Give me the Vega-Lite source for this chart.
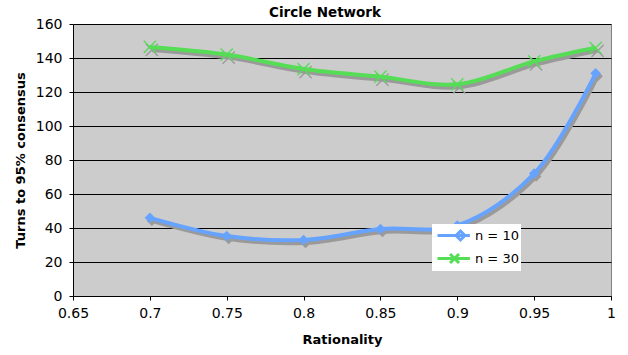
{
  "$schema": "https://vega.github.io/schema/vega-lite/v6.json",
  "width": 538,
  "height": 272,
  "autosize": {"type": "none"},
  "padding": {"left": 73, "top": 24, "right": 17, "bottom": 59},
  "background": "white",
  "title": {"text": "Circle Network", "font": "DejaVu Sans", "fontSize": 13.5, "fontWeight": "bold", "color": "black", "anchor": "middle", "frame": "group", "dx": -17, "dy": 16, "offset": 3, "baseline": "alphabetic"},
  "config": {
    "font": "DejaVu Sans",
    "view": {"fill": "#CCCCCC", "stroke": "#808080", "strokeWidth": 1},
    "axis": {"labelFont": "DejaVu Sans", "labelFontSize": 14, "labelColor": "black", "titleFont": "DejaVu Sans", "titleFontSize": 13, "titleFontWeight": "bold", "titleColor": "black", "domainColor": "black", "tickColor": "black", "tickSize": 4, "gridColor": "black", "gridOpacity": 1, "gridWidth": 1}
  },
  "data": {"values": [
    {"r": 0.7, "turns": 46, "series": "n = 10"},
    {"r": 0.75, "turns": 35.3, "series": "n = 10"},
    {"r": 0.8, "turns": 33, "series": "n = 10"},
    {"r": 0.85, "turns": 39.4, "series": "n = 10"},
    {"r": 0.9, "turns": 41.5, "series": "n = 10"},
    {"r": 0.95, "turns": 72, "series": "n = 10"},
    {"r": 0.99, "turns": 131, "series": "n = 10"},
    {"r": 0.7, "turns": 146.5, "series": "n = 30"},
    {"r": 0.75, "turns": 142, "series": "n = 30"},
    {"r": 0.8, "turns": 133.5, "series": "n = 30"},
    {"r": 0.85, "turns": 129, "series": "n = 30"},
    {"r": 0.9, "turns": 124.5, "series": "n = 30"},
    {"r": 0.95, "turns": 138, "series": "n = 30"},
    {"r": 0.99, "turns": 146, "series": "n = 30"}
  ]},
  "encoding": {
    "x": {"field": "r", "type": "quantitative", "title": "Rationality",
      "scale": {"domain": [0.65, 1], "zero": false, "nice": false},
      "axis": {"values": [0.65, 0.7, 0.75, 0.8, 0.85, 0.9, 0.95, 1], "format": "~g", "grid": false, "labelPadding": 6, "titleY": 47, "titleBaseline": "alphabetic", "labelFlush": false, "labelOverlap": false}},
    "y": {"field": "turns", "type": "quantitative", "title": "Turns to 95% consensus",
      "scale": {"domain": [0, 160], "nice": false},
      "axis": {"values": [0, 20, 40, 60, 80, 100, 120, 140, 160], "grid": true, "labelPadding": 7, "titleX": -53, "titleY": 136, "titleAngle": -90, "titleBaseline": "middle", "titleAlign": "center", "labelFlush": false, "labelOverlap": false}}
  },
  "layer": [
    {"mark": {"type": "line", "interpolate": "catmull-rom", "color": "#9A9A9A", "strokeWidth": 4, "xOffset": 2, "yOffset": 3}, "encoding": {"detail": {"field": "series"}}},
    {"transform": [{"filter": "datum.series == 'n = 10'"}], "mark": {"type": "point", "shape": "diamond", "filled": true, "color": "#9A9A9A", "opacity": 1, "size": 110, "xOffset": 2, "yOffset": 3}},
    {"transform": [{"filter": "datum.series == 'n = 30'"}], "mark": {"type": "point", "shape": "M-1,-1L1,1M-1,1L1,-1", "filled": false, "color": "#9A9A9A", "opacity": 1, "strokeWidth": 1.3, "size": 150, "xOffset": 2, "yOffset": 3}},
    {"mark": {"type": "line", "interpolate": "catmull-rom", "strokeWidth": 4},
      "encoding": {"color": {"field": "series", "type": "nominal", "scale": {"domain": ["n = 10", "n = 30"], "range": ["#66A3FF", "#55DD55"]}}}},
    {"transform": [{"filter": "datum.series == 'n = 10'"}], "mark": {"type": "point", "shape": "diamond", "filled": true, "color": "#66A3FF", "opacity": 1, "size": 110}},
    {"transform": [{"filter": "datum.series == 'n = 30'"}], "mark": {"type": "point", "shape": "M-1,-1L1,1M-1,1L1,-1", "filled": false, "color": "#55DD55", "opacity": 1, "strokeWidth": 1.3, "size": 150}},
    {"mark": {"type": "point", "filled": false, "opacity": 0},
      "encoding": {
        "color": {"field": "series", "type": "nominal", "legend": {"title": null, "orient": "none", "legendX": 359, "legendY": 200, "fillColor": "white", "padding": 2, "labelFont": "DejaVu Sans", "labelFontSize": 13, "labelColor": "black", "symbolSize": 256, "symbolStrokeWidth": 3, "symbolOpacity": 1, "labelOffset": 22, "rowPadding": 2}},
        "shape": {"field": "series", "type": "nominal", "scale": {"domain": ["n = 10", "n = 30"], "range": ["M-0.75,0H3.3M2.12,-0.56L2.68,0L2.12,0.56L1.56,0Z", "M-0.75,0H3.3M0.82,-0.56L1.94,0.56M0.82,0.56L1.94,-0.56"]}}
      }}
  ]
}
